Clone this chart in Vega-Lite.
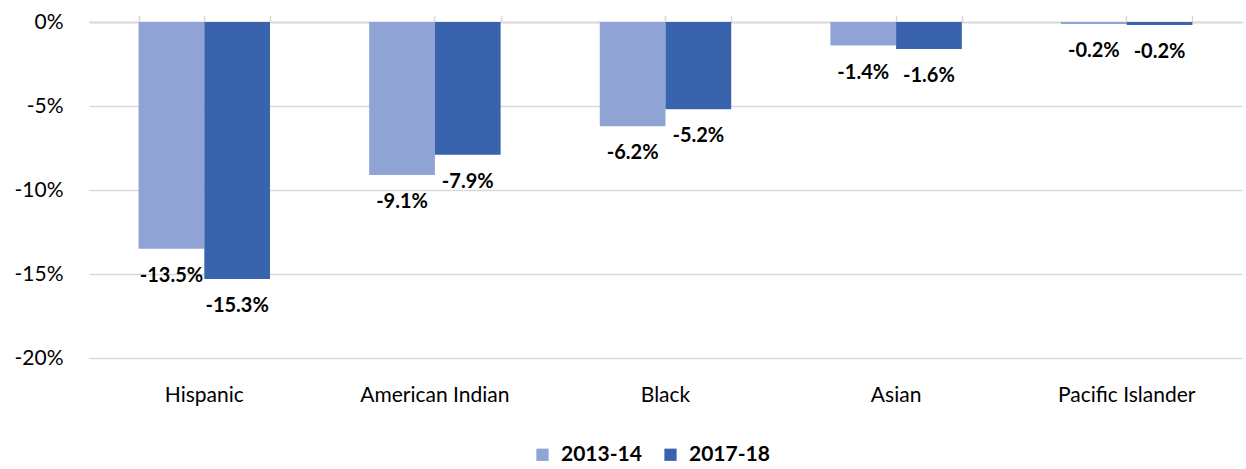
{
  "$schema": "https://vega.github.io/schema/vega-lite/v6.json",
  "width": 1153,
  "height": 336,
  "autosize": {"type": "none"},
  "padding": {"left": 89, "top": 22, "right": 4, "bottom": 111},
  "background": "white",
  "config": {
    "font": "Lato",
    "view": {"stroke": null}
  },
  "data": {
    "values": [
      {"group": "Hispanic", "year": "2013-14", "value": -0.135, "label": "-13.5%"},
      {"group": "Hispanic", "year": "2017-18", "value": -0.153, "label": "-15.3%"},
      {"group": "American Indian", "year": "2013-14", "value": -0.091, "label": "-9.1%"},
      {"group": "American Indian", "year": "2017-18", "value": -0.079, "label": "-7.9%"},
      {"group": "Black", "year": "2013-14", "value": -0.062, "label": "-6.2%"},
      {"group": "Black", "year": "2017-18", "value": -0.052, "label": "-5.2%"},
      {"group": "Asian", "year": "2013-14", "value": -0.014, "label": "-1.4%"},
      {"group": "Asian", "year": "2017-18", "value": -0.016, "label": "-1.6%"},
      {"group": "Pacific Islander", "year": "2013-14", "value": -0.0012, "label": "-0.2%"},
      {"group": "Pacific Islander", "year": "2017-18", "value": -0.0018, "label": "-0.2%"}
    ]
  },
  "encoding": {
    "x": {
      "field": "group",
      "type": "nominal",
      "sort": null,
      "scale": {"paddingInner": 0.43, "paddingOuter": 0.215}
    },
    "xOffset": {"field": "year", "type": "nominal", "scale": {"paddingInner": 0, "paddingOuter": 0}},
    "y": {
      "field": "value",
      "type": "quantitative",
      "scale": {"domain": [-0.2, 0], "nice": false}
    }
  },
  "layer": [
    {
      "mark": {"type": "bar"},
      "encoding": {
        "x": {
          "field": "group",
          "type": "nominal",
          "sort": null,
          "title": null,
          "scale": {"paddingInner": 0.43, "paddingOuter": 0.215},
          "axis": {
            "orient": "bottom",
            "domain": false,
            "ticks": false,
            "labelAngle": 0,
            "labelFontSize": 21,
            "labelColor": "#000000",
            "labelPadding": 26
          }
        },
        "y": {
          "field": "value",
          "type": "quantitative",
          "title": null,
          "scale": {"domain": [-0.2, 0], "nice": false},
          "axis": {
            "values": [0, -0.05, -0.1, -0.15, -0.2],
            "labelExpr": "replace(format(datum.value, '.0%'), '−', '-')",
            "domain": false,
            "ticks": false,
            "grid": true,
            "gridColor": "#d9d9d9",
            "gridWidth": 1.5,
            "labelFontSize": 21,
            "labelColor": "#000000",
            "labelPadding": 26
          }
        },
        "color": {
          "field": "year",
          "type": "nominal",
          "title": null,
          "scale": {"domain": ["2013-14", "2017-18"], "range": ["#8FA3D4", "#3A63AD"]},
          "legend": {
            "orient": "none",
            "direction": "horizontal",
            "legendX": 443,
            "legendY": 422,
            "symbolType": "square",
            "symbolSize": 150,
            "symbolStrokeWidth": 0,
            "labelFontSize": 21,
            "labelFontWeight": "bold",
            "labelColor": "#000000",
            "columnPadding": 18,
            "labelOffset": 8
          }
        }
      }
    },
    {
      "transform": [{"filter": "datum.year == '2013-14'"}],
      "mark": {"type": "text", "dy": 27, "fontSize": 20, "fontWeight": "bold", "color": "#000000"},
      "encoding": {
        "x": {
          "field": "group",
          "type": "nominal",
          "sort": null,
          "title": null,
          "axis": {
            "orient": "top",
            "labels": false,
            "domain": true,
            "domainColor": "#d9d9d9",
            "domainWidth": 1.5,
            "ticks": true,
            "tickColor": "#d9d9d9",
            "tickWidth": 1.5,
            "tickSize": 7
          }
        },
        "text": {"field": "label"}
      }
    },
    {
      "transform": [{"filter": "datum.year == '2017-18'"}],
      "mark": {"type": "text", "dy": 27, "fontSize": 20, "fontWeight": "bold", "color": "#000000"},
      "encoding": {
        "x": {
          "field": "group",
          "type": "nominal",
          "sort": null,
          "title": null,
          "axis": {
            "orient": "top",
            "labels": false,
            "domain": true,
            "domainColor": "#d9d9d9",
            "domainWidth": 1.5,
            "ticks": true,
            "tickBand": "extent",
            "tickColor": "#d9d9d9",
            "tickWidth": 1.5,
            "tickSize": 7
          }
        },
        "text": {"field": "label"}
      }
    }
  ],
  "resolve": {"axis": {"x": "independent"}}
}
